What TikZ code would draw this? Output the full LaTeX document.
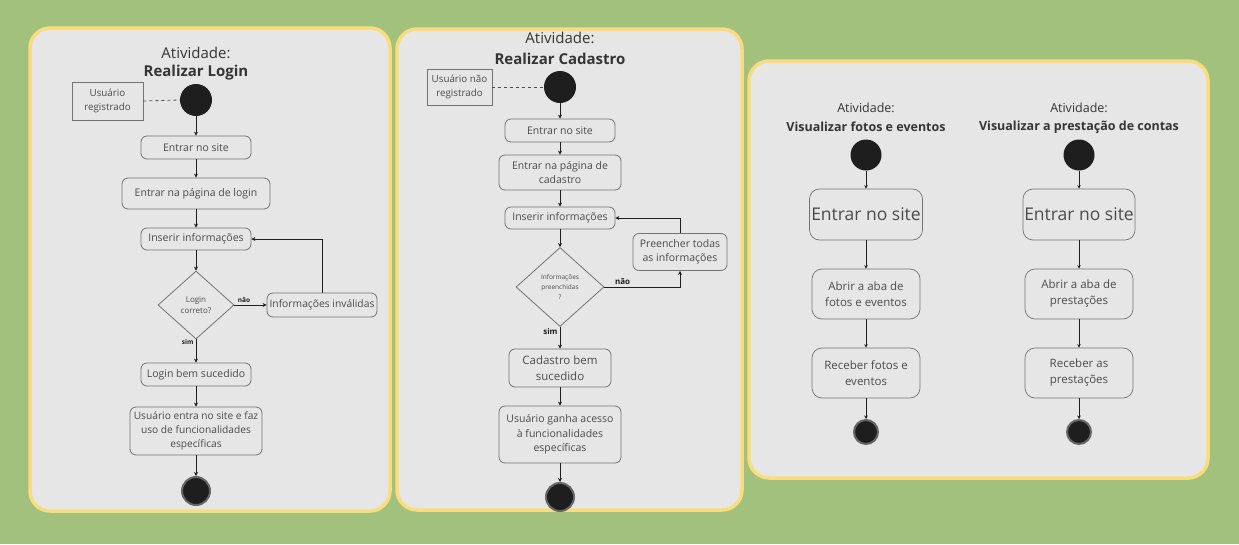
\documentclass[tikz,border=0pt]{standalone}
\usepackage{fontspec}
\setmainfont{Open Sans}
\usetikzlibrary{arrows.meta,shapes.geometric}
\definecolor{bggreen}{RGB}{161,193,125}
\definecolor{panelfill}{RGB}{230,230,230}
\definecolor{panelborder}{RGB}{250,220,125}
\definecolor{boxline}{RGB}{115,115,115}
\definecolor{txt}{RGB}{75,75,75}
\definecolor{dark}{RGB}{30,30,30}
\newcommand{\fs}[2]{\fontsize{#1}{#2}\selectfont}
\tikzset{
  panel/.style={draw=panelborder, line width=3.5pt, fill=panelfill, rounded corners=20pt},
  act/.style={draw=boxline, line width=0.8pt, rounded corners=6pt, align=center, text=txt, inner sep=0pt, font=\fs{10.5}{14.5}},
  bigact/.style={act, rounded corners=10pt, line width=0.7pt},
  note/.style={draw=boxline, line width=0.8pt, align=center, text=txt, inner sep=0pt, font=\fs{9.8}{14}},
  startnode/.style={circle, fill=dark, inner sep=0pt},
  endnode/.style={circle, fill=dark, draw=gray!80!black, line width=2pt, inner sep=0pt},
  decision/.style={diamond, draw=boxline, line width=0.8pt, align=center, text=txt, inner sep=0pt},
  arr/.style={-{Stealth[length=4pt,width=4pt]}, line width=0.9pt, draw=dark},
  thinarr/.style={-{Stealth[length=3.5pt,width=3.5pt]}, line width=0.7pt, draw=dark},
  dashline/.style={dashed, line width=0.8pt, draw=dark!80},
  ttl/.style={text=dark!90, inner sep=0pt},
  guard/.style={font=\bfseries\fs{6.5}{8}, text=dark, inner sep=1pt}
}
\begin{document}
\begin{tikzpicture}[x=1pt,y=-1pt]
\fill[bggreen] (0,0) rectangle (1239,544);
\useasboundingbox (0,0) rectangle (1239,544);

% ---------- Panel 1 ----------
\draw[panel] (30,28) rectangle (390,511);
\node[ttl, font=\fs{15}{18}] (t1a) at (196,53) {Atividade:};
\node[ttl, font=\bfseries\fs{15}{18}] (t1b) at (196,73) {Realizar Login};
\node[note, minimum width=71pt, minimum height=38pt] (u1) at (107.5,101) {Usuário\\registrado};
\node[startnode, minimum size=32pt] (s1) at (196,100) {};
\node[act, minimum width=110pt, minimum height=23pt] (a11) at (196,147.5) {Entrar no site};
\node[act, minimum width=148pt, minimum height=31pt] (a12) at (196,193.5) {Entrar na página de login};
\node[act, minimum width=110pt, minimum height=22pt] (a13) at (196,239) {Inserir informações};
\node[decision, minimum width=76pt, minimum height=68pt, font=\fs{8}{11}] (d1) at (196,305) {Login\\correto?};
\node[act, minimum width=110pt, minimum height=24pt, font=\fs{10.3}{14}] (a14) at (322,305) {Informações inválidas};
\node[act, minimum width=110pt, minimum height=23pt] (a15) at (196,374.5) {Login bem sucedido};
\node[act, minimum width=132pt, minimum height=48pt, font=\fs{10.2}{14}] (a16) at (196,431) {Usuário entra no site e faz\\uso de funcionalidades\\específicas};
\node[endnode, minimum size=28pt] (e1) at (196,491) {};

\draw[dashline] (u1.east) -- (s1.west);
\draw[arr] (s1) -- (a11);
\draw[arr] (a11) -- (a12);
\draw[arr] (a12) -- (a13);
\draw[arr] (a13) -- (d1);
\draw[arr] (d1.east) -- node[guard, pos=0.3, above=1pt] {não} (a14.west);
\draw[arr] (a14.north) |- (a13.east);
\draw[arr] (d1.south) -- node[guard, pos=0.12, left=1pt] {sim} (a15);
\draw[arr] (a15) -- (a16);
\draw[arr] (a16) -- (e1);

% ---------- Panel 2 ----------
\draw[panel] (397,29) rectangle (742,510);
\node[ttl, font=\fs{15}{18}] (t2a) at (560,38) {Atividade:};
\node[ttl, font=\bfseries\fs{15}{18}] (t2b) at (560,59) {Realizar Cadastro};
\node[note, minimum width=65pt, minimum height=36pt] (u2) at (459.5,87) {Usuário não\\registrado};
\node[startnode, minimum size=32pt] (s2) at (560,87) {};
\node[act, minimum width=110pt, minimum height=23pt] (b1) at (560,130.5) {Entrar no site};
\node[act, minimum width=122pt, minimum height=35pt] (b2) at (560,172.5) {Entrar na página de\\cadastro};
\node[act, minimum width=110pt, minimum height=22pt] (b3) at (560,218) {Inserir informações};
\node[act, minimum width=94pt, minimum height=37pt] (b4) at (680,252) {Preencher todas\\as informações};
\node[decision, minimum width=88pt, minimum height=79pt, font=\fs{6.5}{10}] (d2) at (560,287) {Informações\\preenchidas\\?};
\node[act, minimum width=102pt, minimum height=38pt, font=\fs{11.5}{15.5}] (b5) at (560,368) {Cadastro bem\\sucedido};
\node[act, minimum width=122pt, minimum height=57pt] (b6) at (560,434.5) {Usuário ganha acesso\\à funcionalidades\\específicas};
\node[endnode, minimum size=28pt] (e2) at (560,497) {};

\draw[dashline] (u2.east) -- (s2.west);
\draw[arr] (s2) -- (b1);
\draw[arr] (b1) -- (b2);
\draw[arr] (b2) -- (b3);
\draw[arr] (b3) -- (d2);
\draw[arr] (d2.east) -| node[guard, pos=0.12, above=1pt, font=\bfseries\fs{8}{10}] {não} (b4.south);
\draw[arr] (b4.north) |- (b3.east);
\draw[arr] (d2.south) -- node[guard, pos=0.2, left=1pt, font=\bfseries\fs{8}{10}] {sim} (b5);
\draw[arr] (b5) -- (b6);
\draw[arr] (b6) -- (e2);

% ---------- Panel 3 ----------
\draw[panel] (749,61) rectangle (1208,478);
% left column
\node[ttl, font=\fs{12.5}{15}] (t3a) at (866,108) {Atividade:};
\node[ttl, font=\bfseries\fs{12.5}{15}] (t3b) at (866,127) {Visualizar fotos e eventos};
\node[startnode, minimum size=31pt] (s3) at (866,155) {};
\node[bigact, minimum width=113pt, minimum height=51pt, font=\fs{17.5}{20}] (c1) at (866,214.5) {Entrar no site};
\node[bigact, minimum width=108pt, minimum height=50pt, font=\fs{11.5}{16}] (c2) at (866,294) {Abrir a aba de\\fotos e eventos};
\node[bigact, minimum width=108pt, minimum height=50pt, font=\fs{11.5}{16}] (c3) at (866,373) {Receber fotos e\\eventos};
\node[endnode, minimum size=24pt] (e3) at (866,432) {};
\draw[thinarr] (s3) -- (c1);
\draw[thinarr] (c1) -- (c2);
\draw[thinarr] (c2) -- (c3);
\draw[thinarr] (c3) -- (e3);
% right column
\node[ttl, font=\fs{12.5}{15}] (t4a) at (1079,108) {Atividade:};
\node[ttl, font=\bfseries\fs{12.5}{15}] (t4b) at (1079,127) {Visualizar a prestação de contas};
\node[startnode, minimum size=31pt] (s4) at (1079,155) {};
\node[bigact, minimum width=112pt, minimum height=51pt, font=\fs{17.5}{20}] (f1) at (1079,214.5) {Entrar no site};
\node[bigact, minimum width=108pt, minimum height=50pt, font=\fs{11.5}{16}] (f2) at (1079,294) {Abrir a aba de\\prestações};
\node[bigact, minimum width=108pt, minimum height=50pt, font=\fs{11.5}{16}] (f3) at (1079,373) {Receber as\\prestações};
\node[endnode, minimum size=24pt] (e4) at (1079,432) {};
\draw[thinarr] (s4) -- (f1);
\draw[thinarr] (f1) -- (f2);
\draw[thinarr] (f2) -- (f3);
\draw[thinarr] (f3) -- (e4);
\end{tikzpicture}
\end{document}
